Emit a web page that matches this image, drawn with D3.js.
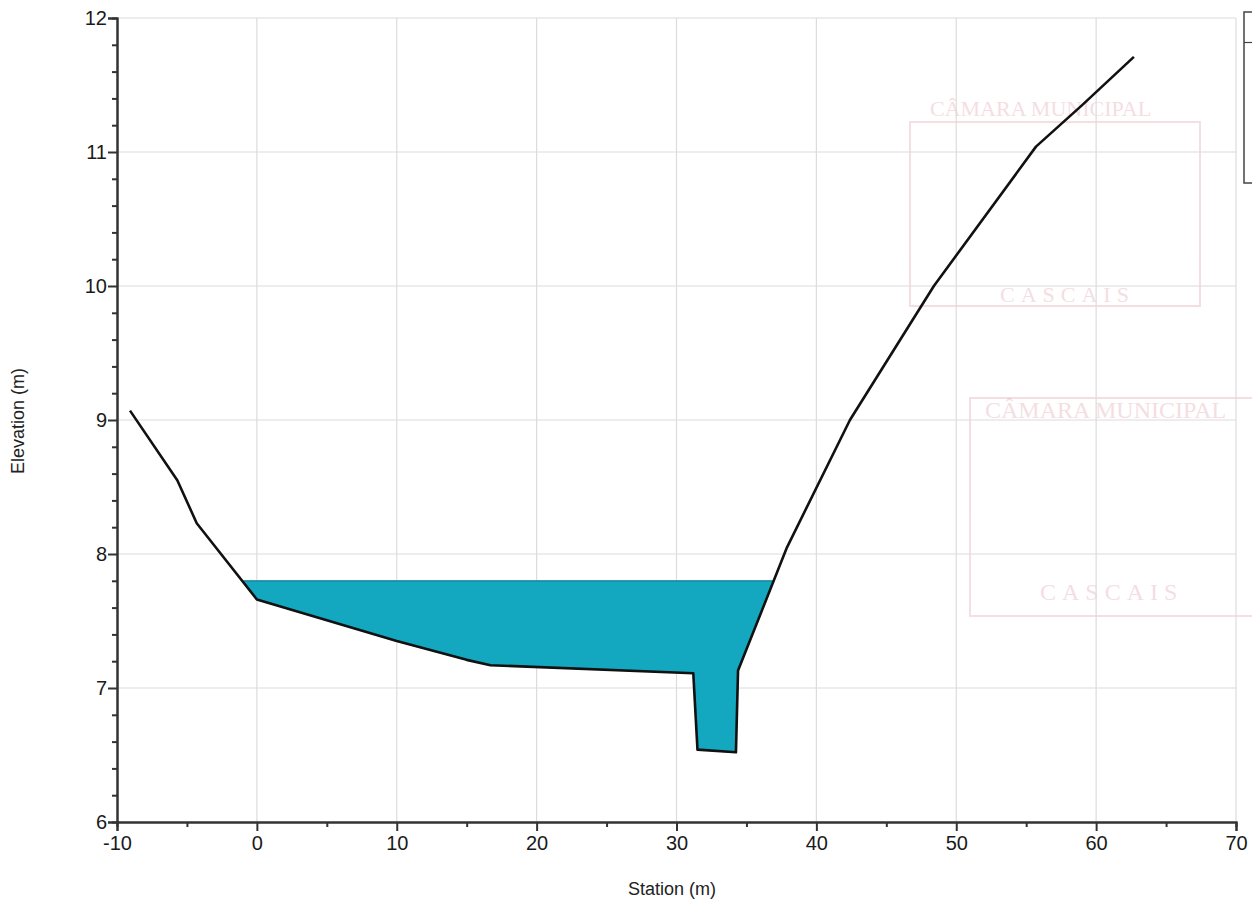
<!DOCTYPE html>
<html>
<head>
<meta charset="utf-8">
<script src="https://cdn.jsdelivr.net/npm/d3@7"></script>
<style>
  html, body { margin: 0; padding: 0; background: #fff; }
  svg { display: block; font-family: "Liberation Sans", Arial, sans-serif; }
</style>
</head>
<body>
<svg id="chart" width="1252" height="900"></svg>
<script>
// ---- data ----
const stations   = [-9.07, -5.69, -4.30, 0.0, 10.0, 15.0, 16.7, 31.2, 31.5, 34.25, 34.4, 37.9, 42.4, 48.4, 55.7, 59.0, 62.7];
const elevations = [9.07, 8.55, 8.23, 7.66, 7.35, 7.21, 7.17, 7.11, 6.54, 6.52, 7.13, 8.05, 9.0, 10.0, 11.04, 11.35, 11.71];
const waterSurface = 7.80;
const xTicks = [-10, 0, 10, 20, 30, 40, 50, 60, 70];
const yTicks = [6, 7, 8, 9, 10, 11, 12];
const xTitle = "Station (m)";
const yTitle = "Elevation (m)";

const svg = d3.select("#chart");
const x = d3.scaleLinear().domain([-10, 70]).range([117, 1236]);
const y = d3.scaleLinear().domain([6, 12]).range([822, 18]);

const ground = stations.map((s, i) => ({ s, e: elevations[i] }));

// ---- faint scanned stamps (background) ----
const stamp = svg.append("g").attr("opacity", 0.28).attr("fill", "none").attr("stroke", "#d98c9a");
stamp.append("rect").attr("x", 910).attr("y", 122).attr("width", 290).attr("height", 184).attr("stroke-width", 2);
stamp.append("rect").attr("x", 970).attr("y", 398).attr("width", 290).attr("height", 218).attr("stroke-width", 2);
const stampText = svg.append("g").attr("opacity", 0.28).attr("fill", "#d98c9a")
  .attr("font-family", "Liberation Serif, serif");
stampText.append("text").attr("x", 930).attr("y", 116).attr("font-size", 22).text("CÂMARA MUNICIPAL");
stampText.append("text").attr("x", 1000).attr("y", 302).attr("font-size", 22).attr("letter-spacing", 6).text("CASCAIS");
stampText.append("text").attr("x", 985).attr("y", 418).attr("font-size", 24).text("CÂMARA MUNICIPAL");
stampText.append("text").attr("x", 1040).attr("y", 600).attr("font-size", 24).attr("letter-spacing", 6).text("CASCAIS");

// ---- grid ----
const grid = svg.append("g").attr("stroke", "#dcdcdc").attr("stroke-width", 1.2);
grid.selectAll("line.v").data(xTicks.slice(1)).join("line")
  .attr("x1", d => x(d)).attr("x2", d => x(d)).attr("y1", y(12)).attr("y2", y(6));
grid.selectAll("line.h").data(yTicks.slice(1)).join("line")
  .attr("x1", x(-10)).attr("x2", x(70)).attr("y1", d => y(d)).attr("y2", d => y(d));

// ---- water polygon (ground clipped below water surface) ----
function waterPolygon() {
  const pts = [];
  for (let i = 0; i < ground.length - 1; i++) {
    const a = ground[i], b = ground[i + 1];
    const aw = a.e <= waterSurface, bw = b.e <= waterSurface;
    if (aw) pts.push([a.s, a.e]);
    if (aw !== bw) {
      const t = (waterSurface - a.e) / (b.e - a.e);
      pts.push([a.s + t * (b.s - a.s), waterSurface]);
    }
  }
  const last = ground[ground.length - 1];
  if (last.e <= waterSurface) pts.push([last.s, last.e]);
  return pts;
}
const wp = waterPolygon();
svg.append("path")
  .attr("d", d3.line().x(d => x(d[0])).y(d => y(d[1]))(wp) + "Z")
  .attr("fill", "#13a8c0")
  .attr("stroke", "#117f93")
  .attr("stroke-width", 1.2);

// ---- ground line ----
svg.append("path")
  .datum(ground)
  .attr("d", d3.line().x(d => x(d.s)).y(d => y(d.e)))
  .attr("fill", "none")
  .attr("stroke", "#111")
  .attr("stroke-width", 2.6)
  .attr("stroke-linejoin", "round");

// ---- axes ----
const fmt = d => String(d);
const xAxis = svg.append("g").attr("transform", `translate(0,${y(6)})`)
  .call(d3.axisBottom(x).tickValues(xTicks).tickSize(9).tickPadding(5).tickFormat(fmt));
const xMinor = svg.append("g").attr("transform", `translate(0,${y(6)})`)
  .call(d3.axisBottom(x).tickValues(d3.range(-5, 70, 10)).tickSize(5).tickFormat(""));
const yAxis = svg.append("g").attr("transform", `translate(${x(-10)},0)`)
  .call(d3.axisLeft(y).tickValues(yTicks).tickSize(9).tickPadding(1).tickFormat(fmt));
const yMinor = svg.append("g").attr("transform", `translate(${x(-10)},0)`)
  .call(d3.axisLeft(y).tickValues(d3.range(6, 12.001, 0.2).filter(v => Math.abs(v - Math.round(v)) > 0.01)).tickSize(5).tickFormat(""));

[xAxis, xMinor, yAxis, yMinor].forEach(g => {
  g.select(".domain").attr("stroke", "#333").attr("stroke-width", 2);
  g.selectAll(".tick line").attr("stroke", "#333").attr("stroke-width", 2);
});
xAxis.selectAll("text").attr("font-size", 20).attr("fill", "#1a1a1a").attr("font-family", "Liberation Sans, Arial, sans-serif");
yAxis.selectAll("text").attr("font-size", 20).attr("fill", "#1a1a1a").attr("font-family", "Liberation Sans, Arial, sans-serif");

// ---- titles ----
svg.append("text").attr("x", 672).attr("y", 895).attr("text-anchor", "middle")
  .attr("font-size", 18).attr("fill", "#222").text(xTitle);
svg.append("text").attr("transform", "translate(24,421) rotate(-90)").attr("text-anchor", "middle")
  .attr("font-size", 18).attr("fill", "#222").text(yTitle);

// ---- legend box (cut off at right edge) ----
svg.append("rect").attr("x", 1244).attr("y", 12).attr("width", 40).attr("height", 171)
  .attr("fill", "#fff").attr("stroke", "#444").attr("stroke-width", 1.5);
svg.append("line").attr("x1", 1244).attr("x2", 1252).attr("y1", 42.5).attr("y2", 42.5)
  .attr("stroke", "#444").attr("stroke-width", 1.2);
</script>
</body>
</html>
